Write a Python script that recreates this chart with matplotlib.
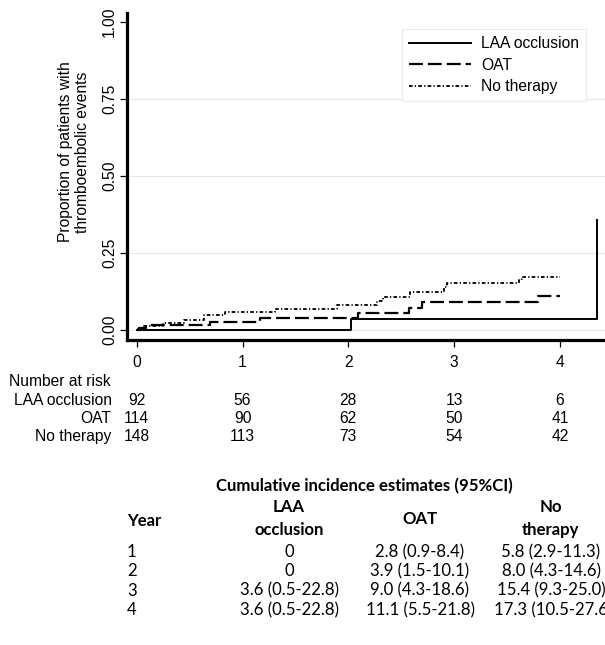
import numpy as np
import matplotlib
matplotlib.use("Agg")
import matplotlib.pyplot as plt
import matplotlib.transforms as mtransforms

plt.rcParams['font.family'] = ['Liberation Sans', 'DejaVu Sans']
plt.rcParams['lines.scale_dashes'] = False

# step curves (time in years, cumulative incidence)
laa_t = [0, 2.03, 4.35]
laa_y = [0, 0.036, 0.357]
oat_t = [0, 0.02, 0.09, 0.69, 1.17, 2.09, 2.57, 2.70, 3.79, 4.0]
oat_y = [0, 0.008, 0.016, 0.026, 0.039, 0.054, 0.070, 0.090, 0.111, 0.111]
none_t = [0, 0.05, 0.25, 0.45, 0.64, 0.83, 1.31, 1.89, 2.27, 2.33, 2.58, 2.90, 2.93, 3.61, 3.64, 4.0]
none_y = [0.003, 0.012, 0.022, 0.032, 0.048, 0.058, 0.067, 0.080, 0.095, 0.108,
          0.122, 0.140, 0.154, 0.165, 0.173, 0.173]

group_names = ["LAA occlusion", "OAT", "No therapy"]
risk_years = [0, 1, 2, 3, 4]
risk_laa = [92, 56, 28, 13, 6]
risk_oat = [114, 90, 62, 50, 41]
risk_none = [148, 113, 73, 54, 42]

table_years = ["1", "2", "3", "4"]
ci_laa = ["0", "0", "3.6 (0.5-22.8)", "3.6 (0.5-22.8)"]
ci_oat = ["2.8 (0.9-8.4)", "3.9 (1.5-10.1)", "9.0 (4.3-18.6)", "11.1 (5.5-21.8)"]
ci_none = ["5.8 (2.9-11.3)", "8.0 (4.3-14.6)", "15.4 (9.3-25.0)", "17.3 (10.5-27.6"]

W, H = 605, 645
FS = 11.25
TFS = 12.1
fig = plt.figure(figsize=(W / 100, H / 100), dpi=100)

def fx(px):
    return px / W

def fy(py):
    return 1 - py / H

ax = fig.add_axes([fx(126.7), fy(340), fx(605 - 126.7), (340 - 13) / H])
ax.set_xlim(-0.0945, 4.426)
ax.set_ylim(-0.0325, 1.029)

for v in [0, 0.25, 0.5, 0.75]:
    ax.axhline(v, color='#e6e6e6', lw=0.8, zorder=0)

ax.step(laa_t, laa_y, where='post', color='black', lw=1.4, label=group_names[0])
ax.step(oat_t, oat_y, where='post', color='black', lw=1.6, ls=(0, (10, 3.6)), label=group_names[1])
ax.step(none_t, none_y, where='post', color='black', lw=1.3, ls=(0, (2.6, 1.6, 0.9, 1.6)),
        label=group_names[2])

for s in ['top', 'right']:
    ax.spines[s].set_visible(False)
for s in ['left', 'bottom']:
    ax.spines[s].set_linewidth(2.3)

ax.set_xticks(risk_years)
ax.set_yticks([0, 0.25, 0.5, 0.75, 1.0])
ax.set_yticklabels(['0.00', '0.25', '0.50', '0.75', '1.00'], rotation=90, va='center')
ax.tick_params(axis='both', direction='out', length=5, width=0.9, labelsize=FS)
ax.tick_params(axis='x', pad=6)
ax.tick_params(axis='y', pad=2)

leg = ax.legend(loc='upper left', bbox_to_anchor=((401.7 - 126.7) / (605 - 126.7), (340 - 29.3) / (340 - 13)),
                frameon=True, fancybox=False, fontsize=FS, handlelength=4.0, handletextpad=0.64,
                borderpad=0.45, labelspacing=0.42, borderaxespad=0)
leg.get_frame().set_edgecolor('#e8e8e8')
leg.get_frame().set_linewidth(0.8)

fig.text(fx(74), fy(152), "Proportion of patients with\nthromboembolic events", rotation=90,
         ha='center', va='center', fontsize=FS, linespacing=1.15, multialignment='center')

# number at risk
fig.text(fx(9.3), fy(381.7), "Number at risk", ha='left', va='center', fontsize=FS)
blend = mtransforms.blended_transform_factory(ax.transData, fig.transFigure)
for name, counts, ypx in zip(group_names, [risk_laa, risk_oat, risk_none], [400.7, 418.5, 436.7]):
    fig.text(fx(111.7), fy(ypx), name, ha='right', va='center', fontsize=FS)
    for yr, n in zip(risk_years, counts):
        fig.text(yr, fy(ypx), str(n), transform=blend, ha='center', va='center', fontsize=FS)

# cumulative incidence table
tf = ['Lato', 'DejaVu Sans']
fig.text(fx(364), fy(486), "Cumulative incidence estimates (95%CI)", ha='center', va='center',
         fontsize=TFS, fontweight='bold', family=tf)
fig.text(fx(126.7), fy(521), "Year", ha='left', va='center', fontsize=TFS, fontweight='bold', family=tf)
fig.text(fx(289), fy(518.5), "LAA\nocclusion", ha='center', va='center', fontsize=TFS, fontweight='bold',
         family=tf, linespacing=1.55)
fig.text(fx(420), fy(518.5), "OAT", ha='center', va='center', fontsize=TFS, fontweight='bold', family=tf)
fig.text(fx(551), fy(518.5), "No\ntherapy", ha='center', va='center', fontsize=TFS, fontweight='bold',
         family=tf, linespacing=1.55)
for i, yr in enumerate(table_years):
    ypx = 552 + 19.3 * i
    fig.text(fx(127), fy(ypx), yr, ha='left', va='center', fontsize=TFS, family=tf)
    fig.text(fx(289), fy(ypx), ci_laa[i], ha='center', va='center', fontsize=TFS, family=tf)
    fig.text(fx(420), fy(ypx), ci_oat[i], ha='center', va='center', fontsize=TFS, family=tf)
    fig.text(fx(551), fy(ypx), ci_none[i], ha='center', va='center', fontsize=TFS, family=tf)

fig.savefig("out.png", dpi=100)
